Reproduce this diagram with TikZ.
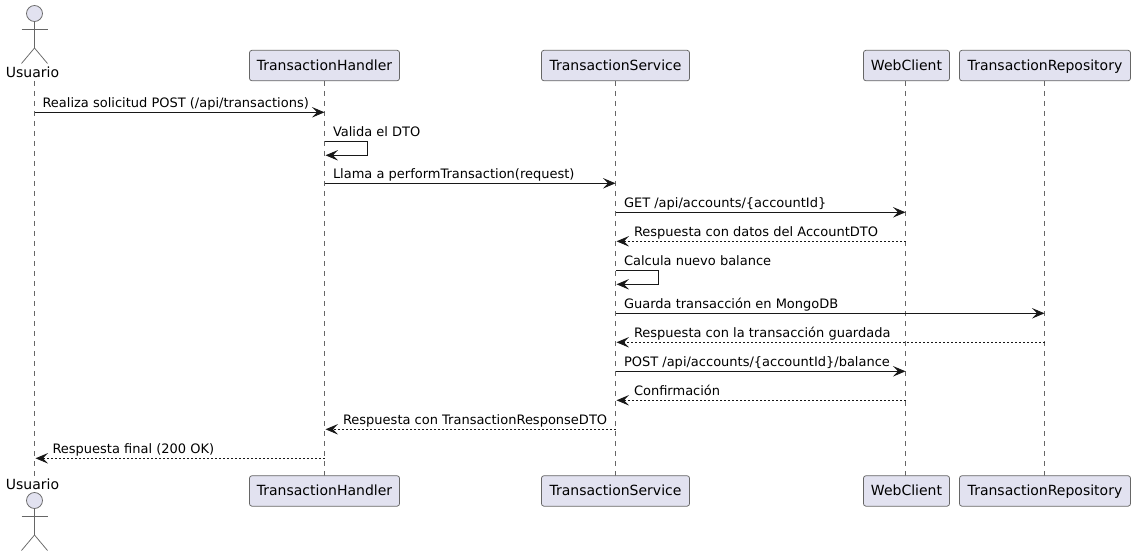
\documentclass[tikz,border=0pt]{standalone}
\usepackage{fontspec}
\setmainfont{DejaVu Sans}
\usetikzlibrary{arrows.meta,calc}
\definecolor{ink}{HTML}{181818}
\definecolor{soft}{HTML}{666666}
\definecolor{boxfill}{HTML}{E2E2F0}
\tikzset{
  x=1pt,y=-1pt,
  every node/.style={font=\fontsize{14}{16}\selectfont,text=black,inner sep=0pt,outer sep=0pt},
  part/.style={draw=soft,fill=boxfill,line width=0.75pt,rounded corners=2.5pt,anchor=north west,minimum height=30.5pt},
  partlabel/.style={anchor=base},
  life/.style={draw=soft,line width=0.6pt,dash pattern=on 5pt off 5pt},
  msg/.style={draw=ink,line width=1pt,-{Stealth[length=12.5pt,width=10.5pt,inset=5pt,color=ink]}},
  reply/.style={msg,dash pattern=on 2pt off 2pt},
  mlabel/.style={anchor=base west,font=\fontsize{13}{15}\selectfont},
  limb/.style={draw=soft,line width=0.75pt},
}
\newcommand{\actorfig}[3]{%
  \node[circle,draw=soft,fill=boxfill,line width=0.75pt,minimum size=16pt] (#1) at (#2,#3+8) {};
  \coordinate (#1hip) at (#2,#3+42.5);
  \draw[limb] (#1.south) -- (#1hip);
  \draw[limb] (#2-13,#3+23.5) -- (#2+13,#3+23.5);
  \draw[limb] (#1hip) -- (#2-13,#3+58);
  \draw[limb] (#1hip) -- (#2+13,#3+58);
}
\begin{document}
\begin{tikzpicture}
\useasboundingbox (0,0) rectangle (1135,556);
% lifeline ends
\foreach \n/\x in {u/34.5,th/324.5,ts/615.5,wc/905.5,tr/1044.5}{
  \coordinate (\n A) at (\x,81);
  \coordinate (\n Z) at (\x,475.5);
}
\foreach \n in {u,th,ts,wc,tr}{ \draw[life] (\n A) -- (\n Z); }
% participants
\foreach \n/\t/\x/\w in {th/TransactionHandler/249.5/150,ts/TransactionService/541.5/148,wc/WebClient/863.5/86,tr/TransactionRepository/959.5/171}{
  \node[part,minimum width=\w pt] (\n T) at (\x,50.3) {};
  \node[part,minimum width=\w pt] (\n B) at (\x,475.7) {};
  \node[partlabel] (\n Tl) at ($(\n T.south)+(0,-10.5)$) {\t};
  \node[partlabel] (\n Bl) at ($(\n B.south)+(0,-10.5)$) {\t};
}
% actors
\actorfig{uTop}{34.5}{5.5}
\actorfig{uBot}{34.5}{492.5}
\node[partlabel] (uTl) at (32.5,78) {Usuario};
\node[partlabel] (uBl) at (32.5,489) {Usuario};
% messages
\draw[msg] (uA |- 0,112.3) -- (thA |- 0,112.3);
\node[mlabel] (m1) at (42.5,107.7) {Realiza solicitud POST (/api/transactions)};
\draw[msg] (thA |- 0,141.3) -- ++(43,0) -- ++(0,14) -- ++(-42,0);
\node[mlabel] (m2) at (333,136.7) {Valida el DTO};
\draw[msg] (thA |- 0,183.3) -- (tsA |- 0,183.3);
\node[mlabel] (m3) at (333,178.7) {Llama a performTransaction(request)};
\draw[msg] (tsA |- 0,212.3) -- (wcA |- 0,212.3);
\node[mlabel] (m4) at (624,207.7) {GET /api/accounts/\{accountId\}};
\draw[reply] (wcA |- 0,241.3) -- ($(tsA |- 0,241.3)+(1,0)$);
\node[mlabel] (m5) at (634,236.7) {Respuesta con datos del AccountDTO};
\draw[msg] (tsA |- 0,270.3) -- ++(43,0) -- ++(0,14) -- ++(-42,0);
\node[mlabel] (m6) at (624,265.7) {Calcula nuevo balance};
\draw[msg] (tsA |- 0,313.3) -- (trA |- 0,313.3);
\node[mlabel] (m7) at (624,308.7) {Guarda transacción en MongoDB};
\draw[reply] (trA |- 0,342.3) -- ($(tsA |- 0,342.3)+(1,0)$);
\node[mlabel] (m8) at (634,337.7) {Respuesta con la transacción guardada};
\draw[msg] (tsA |- 0,371.3) -- (wcA |- 0,371.3);
\node[mlabel] (m9) at (624,366.7) {POST /api/accounts/\{accountId\}/balance};
\draw[reply] (wcA |- 0,400.3) -- ($(tsA |- 0,400.3)+(1,0)$);
\node[mlabel] (m10) at (634,395.7) {Confirmación};
\draw[reply] (tsA |- 0,429.3) -- ($(thA |- 0,429.3)+(1,0)$);
\node[mlabel] (m11) at (343,424.7) {Respuesta con TransactionResponseDTO};
\draw[reply] (thA |- 0,458.3) -- ($(uA |- 0,458.3)+(1,0)$);
\node[mlabel] (m12) at (52.5,453.7) {Respuesta final (200 OK)};
\end{tikzpicture}
\end{document}
